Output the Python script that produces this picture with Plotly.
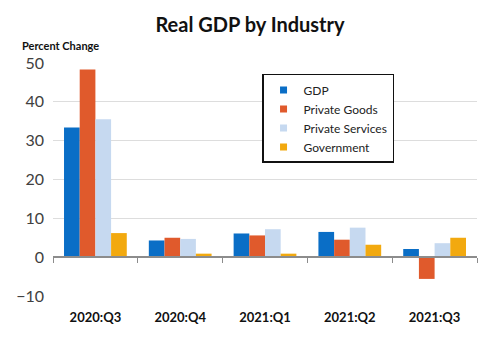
import plotly.graph_objects as go

quarters = ["2020:Q3", "2020:Q4", "2021:Q1", "2021:Q2", "2021:Q3"]
gdp = [33.4, 4.3, 6.1, 6.5, 2.1]
private_goods = [48.3, 5.0, 5.6, 4.5, -5.6]
private_services = [35.5, 4.7, 7.2, 7.6, 3.6]
government = [6.2, 0.9, 0.9, 3.2, 5.0]

series = [
    ("GDP", gdp, "#0A6EC6"),
    ("Private Goods", private_goods, "#E05A2C"),
    ("Private Services", private_services, "#C6D9F0"),
    ("Government", government, "#F2A90F"),
]

y_min, y_max = -10, 50

fig = go.Figure()
for name, vals, color in series:
    fig.add_trace(go.Bar(x=quarters, y=vals, name=name, marker_color=color,
                         marker_line_width=0, showlegend=False))
# small square legend markers
for name, vals, color in series:
    fig.add_trace(go.Scatter(x=[None], y=[None], mode="markers", name=name,
                             marker=dict(symbol="square", size=7, color=color)))

# axis line along zero with tick marks between the quarters
fig.add_trace(go.Scatter(x=[None], y=[None], xaxis="x2", showlegend=False,
                         hoverinfo="skip"))

fig.update_layout(
    width=500, height=339,
    margin=dict(l=53, r=23, t=63, b=43),
    paper_bgcolor="white", plot_bgcolor="white",
    barmode="group", bargap=0.26, bargroupgap=0,
    font=dict(family="Lato, sans-serif", color="#404040"),
    title=dict(text="<b>Real GDP by Industry</b>", x=0.5, xanchor="center",
               y=0.925, yanchor="middle",
               font=dict(size=20, color="#111111", family="Lato, sans-serif")),
    xaxis=dict(showgrid=False, showline=False, ticks="", zeroline=False,
               tickfont=dict(size=13, color="#111111", family="Lato, sans-serif",
                             weight="bold"),
               ticklabelstandoff=12),
    xaxis2=dict(overlaying="x", anchor="free", position=(0 - y_min) / (y_max - y_min),
                range=[-0.5, 4.5], tickvals=[-0.5, 0.5, 1.5, 2.5, 3.5, 4.5],
                showticklabels=False, ticks="outside", ticklen=5, tickwidth=1.3,
                tickcolor="#8C8C8C", showline=True, linecolor="#8C8C8C",
                linewidth=1.6, showgrid=False, zeroline=False),
    yaxis=dict(range=[y_min, y_max], dtick=10, showgrid=True, gridcolor="#DDDDDD",
               gridwidth=1, zeroline=False, showline=False,
               tickfont=dict(size=16, color="#404040"), ticklabelstandoff=8),
    legend=dict(x=0.493, y=0.953, xanchor="left", yanchor="top",
                bordercolor="#111111", borderwidth=1.5, bgcolor="white",
                font=dict(size=12, color="#222222"), tracegroupgap=0,
                itemwidth=30),
    annotations=[dict(text="<b>Percent Change</b>", xref="paper", yref="paper",
                      x=-0.078, y=1.075, xanchor="left", yanchor="middle",
                      showarrow=False, font=dict(size=11, color="#111111"))],
)

fig.write_html("out.html")
